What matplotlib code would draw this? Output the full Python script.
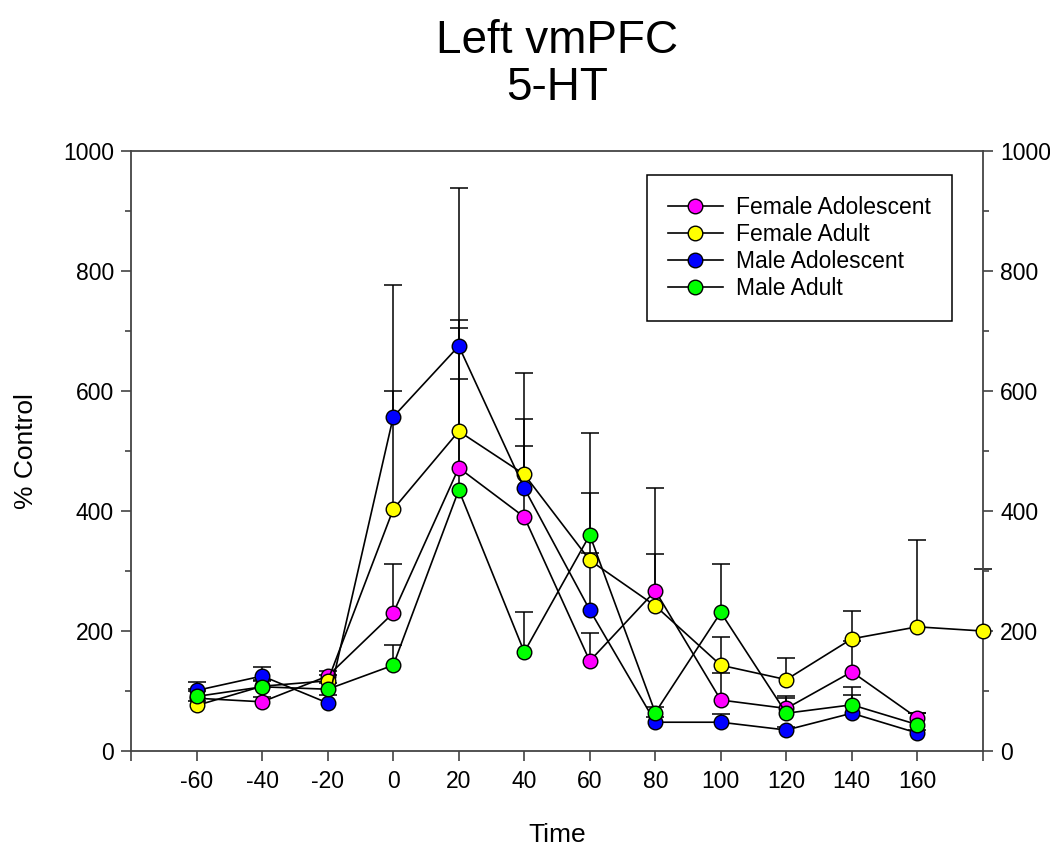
import numpy as np
import matplotlib.pyplot as plt
from matplotlib.ticker import MultipleLocator

plt.rcParams['font.family'] = ['Liberation Sans', 'DejaVu Sans']

times = [-60, -40, -20, 0, 20, 40, 60, 80, 100, 120, 140, 160, 180]

# % control, mean and upper error (SEM) per group
fem_adol = [88, 82, 125, 230, 472, 390, 150, 267, 85, 71, 132, 55]
fem_adol_err = [12, 8, 8, 82, 148, 119, 46, 171, 45, 21, 52, 8]

fem_adult = [76, 108, 117, 403, 533, 461, 318, 242, 143, 119, 187, 207, 200]
fem_adult_err = [8, 10, 10, 197, 185, 92, 12, 87, 47, 36, 47, 145, 104]

male_adol = [101, 125, 80, 557, 675, 438, 235, 48, 48, 35, 63, 30]
male_adol_err = [14, 15, 13, 220, 263, 192, 195, 8, 13, 5, 30, 5]

male_adult = [91, 107, 103, 143, 435, 165, 360, 64, 231, 63, 77, 44]
male_adult_err = [12, 10, 10, 34, 270, 66, 170, 9, 81, 26, 29, 19]

groups = [
    ('Female Adolescent', fem_adol, fem_adol_err, '#ff00ff'),
    ('Female Adult', fem_adult, fem_adult_err, '#ffff00'),
    ('Male Adolescent', male_adol, male_adol_err, '#0000ff'),
    ('Male Adult', male_adult, male_adult_err, '#00ff00'),
]

fig = plt.figure(figsize=(10.5, 8.59), dpi=100)
ax = fig.add_axes([0.125, 0.1257, 0.811, 0.6985])

for i, (name, vals, err, col) in enumerate(groups):
    x = np.array(times[:len(vals)])
    y = np.array(vals)
    top = y + np.array(err)
    # upper error bars only
    ax.vlines(x, y, top, color='black', lw=1.1, zorder=1, clip_on=False)
    ax.plot(x, top, '_', color='black', ms=13, mew=1.1, zorder=1,
            clip_on=False)
    ax.plot(x, y, '-o', color='black', lw=1.2, mfc=col, mec='black',
            mew=1.0, ms=10.5, label=name, zorder=3 + i, clip_on=False)

ax.set_xlim(-80, 180)
ax.set_ylim(0, 1000)

xt = list(range(-80, 181, 20))
ax.set_xticks(xt)
ax.set_xticklabels(['' if t in (-80, 180) else str(t) for t in xt])
ax.yaxis.set_major_locator(MultipleLocator(200))
ax.yaxis.set_minor_locator(MultipleLocator(100))

ax.tick_params(axis='both', which='major', direction='out', length=7.5,
               width=1.1, labelsize=16.5, colors='#333333',
               labelcolor='black')
ax.tick_params(axis='y', which='minor', direction='out', length=4.5,
               width=1.1, colors='#333333')
ax.tick_params(axis='y', which='both', right=True, labelright=True)
ax.tick_params(axis='y', which='major', pad=5)
ax.tick_params(axis='x', which='major', pad=6)

for sp in ax.spines.values():
    sp.set_linewidth(1.3)
    sp.set_color('#444444')

ax.set_xlabel('Time', fontsize=19, labelpad=22)
ax.set_ylabel('% Control', fontsize=19, labelpad=18)
ax.set_title('Left vmPFC\n5-HT', fontsize=33, pad=37, linespacing=1.08)

leg = ax.legend(loc='upper right', bbox_to_anchor=(0.9636, 0.96),
                borderaxespad=0, fontsize=16.5, fancybox=False,
                edgecolor='black', framealpha=1, handlelength=2.4,
                handletextpad=0.6, labelspacing=0.18, borderpad=0.9)
leg.get_frame().set_linewidth(1.1)

fig.savefig('out.png', dpi=100)
